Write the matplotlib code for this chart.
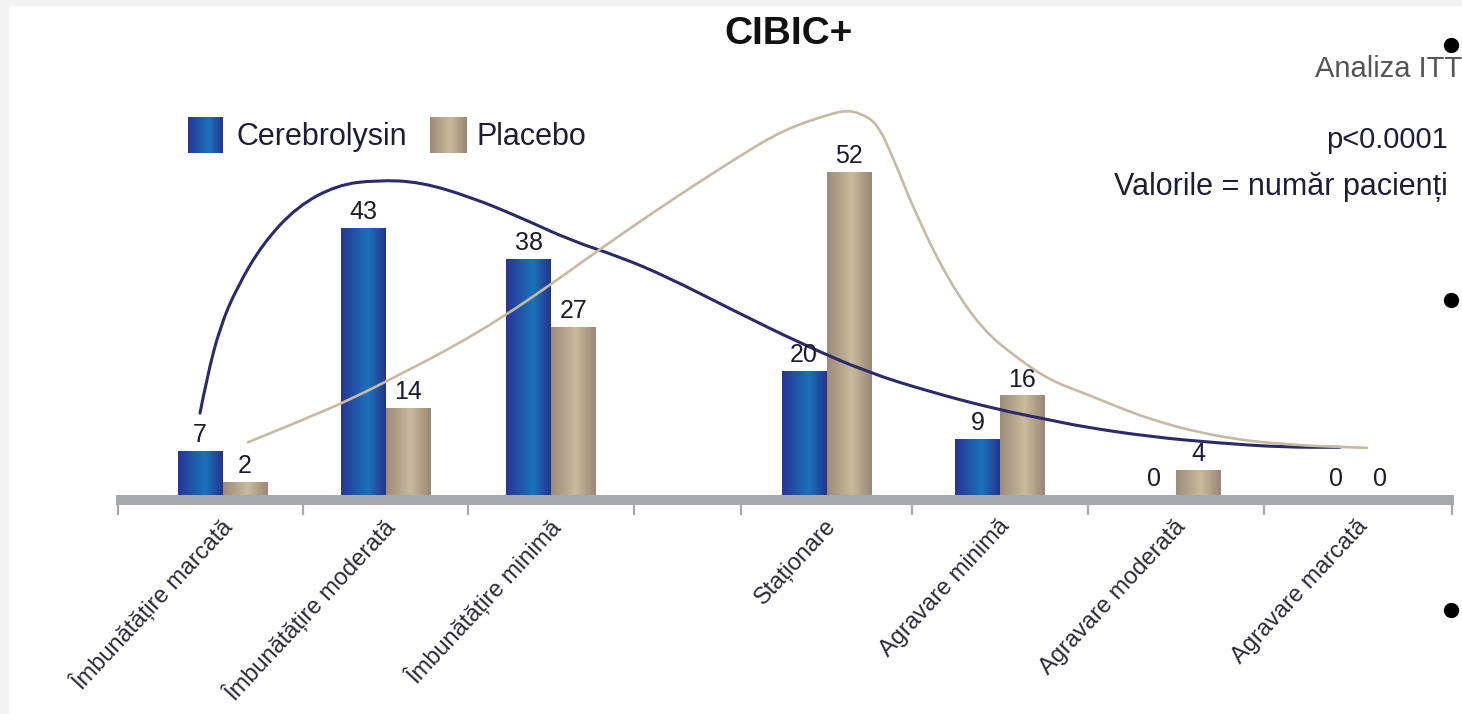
import numpy as np
import matplotlib
matplotlib.use('Agg')
import matplotlib.pyplot as plt
from matplotlib.colors import LinearSegmentedColormap
from matplotlib.lines import Line2D
from matplotlib.patches import Rectangle, PathPatch
from matplotlib.path import Path

plt.rcParams['font.family'] = ['Liberation Sans', 'DejaVu Sans']

# data
categories = ['Îmbunătățire marcată', 'Îmbunătățire moderată', 'Îmbunătățire minimă',
              'Staționare', 'Agravare minimă', 'Agravare moderată', 'Agravare marcată']
cerebrolysin = [7, 43, 38, 20, 9, 0, 0]
placebo = [2, 14, 27, 52, 16, 4, 0]

# trend curves (x on the category axis scale, y in patients)
trend_x_cere = [200, 207, 220, 237, 263, 297, 337, 377, 420, 470, 520, 570, 620,
                667, 733, 800, 867, 933, 1000, 1050, 1083, 1150, 1217, 1283, 1340]
trend_y_cere = [13.2, 19.0, 27.1, 33.5, 40.6, 46.5, 50.0, 50.8, 50.5, 48.1, 44.8, 41.1, 38.4,
                35.2, 29.8, 24.5, 19.8, 16.5, 13.7, 12.1, 11.0, 9.4, 8.4, 7.7, 7.7]
trend_x_plac = [248, 303, 353, 403, 453, 503, 553, 603, 667, 733, 783, 833, 847, 860,
                877, 893, 917, 950, 983, 1017, 1050, 1083, 1150, 1217, 1283, 1367]
trend_y_plac = [8.5, 12.1, 15.6, 19.7, 23.9, 28.7, 34.2, 40.0, 47.1, 54.0, 58.9, 61.6, 62.0, 61.6,
                60.0, 54.5, 44.8, 34.2, 26.6, 22.1, 18.5, 16.5, 12.1, 9.4, 8.1, 7.6]

# layout
W, H = 1462, 714
edges = np.array([118, 303, 468, 634, 741, 912, 1088, 1264, 1452])
slots = [0, 1, 2, 4, 5, 6, 7]          # slot 3 is left empty
centers = [(edges[s] + edges[s + 1]) / 2 for s in slots]
centers[0] += 12
bar_w = 45
px_per_unit = 6.2
ax_left, ax_right, ax_bottom = 116, 1454, 505
ylo = -10 / px_per_unit
yhi = 495 / px_per_unit

blue_cmap = LinearSegmentedColormap.from_list(
    'cere', [(0, '#283593'), (0.6, '#1a72b9'), (1, '#26358e')])
beige_cmap = LinearSegmentedColormap.from_list(
    'plac', [(0, '#9d8b79'), (0.55, '#c9bb9d'), (1, '#9a8876')])
grad = np.linspace(0, 1, 64).reshape(1, -1)


def smooth_path(xs, ys):
    """ Quadratic spline through the midpoints of the read points """
    pts = np.column_stack([xs, ys])
    verts = [pts[0]]
    codes = [Path.MOVETO]
    for i in range(1, len(pts) - 1):
        verts += [pts[i], (pts[i] + pts[i + 1]) / 2]
        codes += [Path.CURVE3, Path.CURVE3]
    verts.append(pts[-1])
    codes.append(Path.LINETO)
    return Path(verts, codes)


fig = plt.figure(figsize=(W / 100, H / 100), dpi=100)
fig.add_artist(Rectangle((0, 1 - 5 / H), 1, 5 / H, transform=fig.transFigure,
                         color='#f3f3f3', zorder=0))
fig.add_artist(Rectangle((0, 0), 8 / W, 1, transform=fig.transFigure,
                         color='#f3f3f3', zorder=0))

ax = fig.add_axes([ax_left / W, (H - ax_bottom) / H, (ax_right - ax_left) / W, ax_bottom / H])
ax.patch.set_alpha(0)

# bars with a horizontal gradient
for vals, side, cmap, base in [(cerebrolysin, -1, blue_cmap, '#1f5aa8'),
                               (placebo, 0, beige_cmap, '#b5a68d')]:
    for c, v in zip(centers, vals):
        x0 = c + side * bar_w
        ax.bar(x0, v, width=bar_w, align='edge', color=base, zorder=2)
        if v > 0:
            ax.imshow(grad, cmap=cmap, extent=(x0, x0 + bar_w, 0, v),
                      aspect='auto', zorder=2.1)
        ax.annotate(str(v), (x0 + bar_w / 2, v), xytext=(0, 3), textcoords='offset points',
                    ha='center', va='bottom', fontsize=18, color='#1b1b2b', zorder=4)

# trend curves
ax.add_patch(PathPatch(smooth_path(trend_x_cere, trend_y_cere), fill=False,
                       edgecolor='#2b2a6a', lw=2.2, zorder=3, capstyle='round'))
ax.add_patch(PathPatch(smooth_path(trend_x_plac, trend_y_plac), fill=False,
                       edgecolor='#c6baa3', lw=1.9, zorder=3, capstyle='round'))

# gray base band
ax.axhspan(ylo, 0, color='#a7a8ab', zorder=1, lw=0)

ax.set_xlim(ax_left, ax_right)
ax.set_ylim(ylo, yhi)
ax.set_yticks([])
for sp in ax.spines.values():
    sp.set_visible(False)

ax.set_xticks(edges)
ax.set_xticklabels([])
ax.tick_params(axis='x', which='major', length=7.5, width=1.6, color='#a7a8ab', direction='out')
ax.set_xticks([c + 6 for c in centers], minor=True)
ax.set_xticklabels(categories, minor=True, fontsize=17, color='#2a2a3a')
ax.tick_params(axis='x', which='minor', length=0, pad=13)
for lab in ax.get_xticklabels(minor=True):
    lab.set_rotation(47)
    lab.set_ha('right')
    lab.set_va('center')
    lab.set_rotation_mode('anchor')

# title
fig.text(789 / W, 1 - 34 / H, 'CIBIC+', ha='center', va='center',
         fontsize=28, fontweight='bold', color='#111111')

# legend
for (lx, lw_), cmap, name, tx in [((188, 34), blue_cmap, 'Cerebrolysin', 237),
                                  ((430, 36), beige_cmap, 'Placebo', 476)]:
    la = fig.add_axes([lx / W, 1 - 153 / H, lw_ / W, 36 / H])
    la.imshow(grad, cmap=cmap, aspect='auto')
    la.axis('off')
    fig.text(tx / W, 1 - 145 / H, name, ha='left', va='baseline',
             fontsize=22, color='#1d1d35')

# annotations on the right
fig.text(1315 / W, 1 - 77 / H, 'Analiza ITT', ha='left', va='baseline',
         fontsize=21, color='#555555')
fig.text(1448 / W, 1 - 148 / H, 'p<0.0001', ha='right', va='baseline',
         fontsize=21, color='#1d1d35')
fig.text(1448 / W, 1 - 195 / H, 'Valorile = număr pacienți', ha='right', va='baseline',
         fontsize=22, color='#1d1d35')

# slide bullets
for by in [45, 300, 610]:
    fig.add_artist(Line2D([1451 / W], [1 - by / H], marker='o', markersize=10,
                          color='black', transform=fig.transFigure, zorder=5))

fig.savefig('out.png', dpi=100)
